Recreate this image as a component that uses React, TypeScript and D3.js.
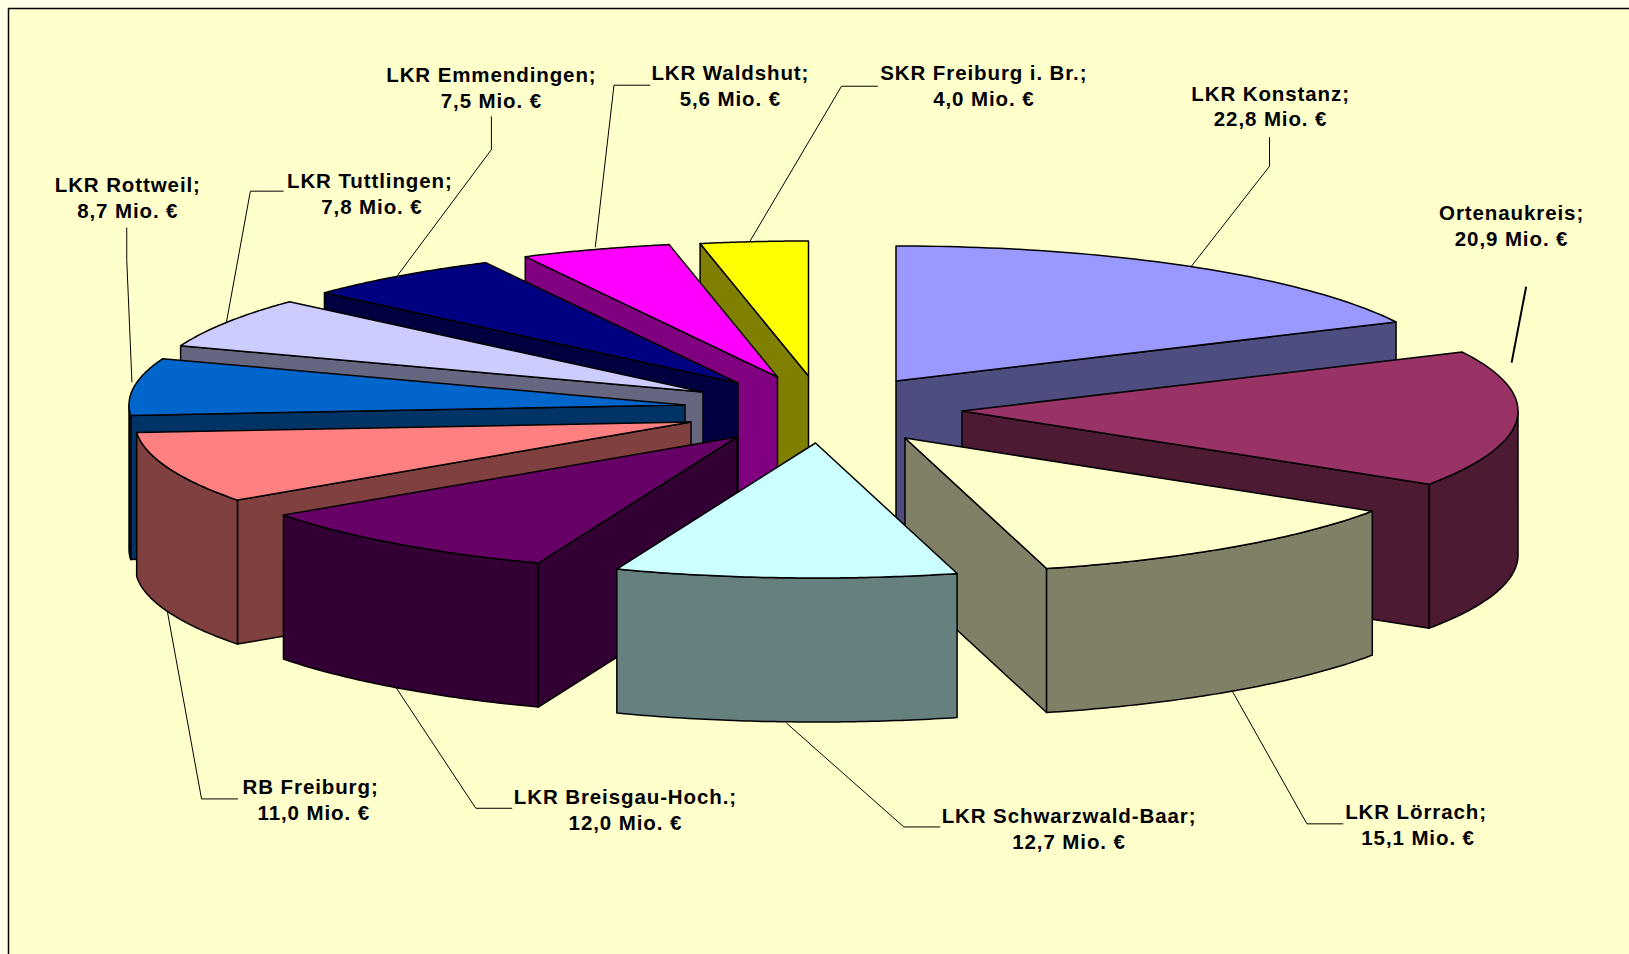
import React from "react";
import * as d3 from "d3";

const regions = ["LKR Konstanz", "Ortenaukreis", "LKR Lörrach", "LKR Schwarzwald-Baar", "LKR Breisgau-Hoch.", "RB Freiburg", "LKR Rottweil", "LKR Tuttlingen", "LKR Emmendingen", "LKR Waldshut", "SKR Freiburg i. Br."];
const amounts = [22.8, 20.9, 15.1, 12.7, 12.0, 11.0, 8.7, 7.8, 7.5, 5.6, 4.0];
const amountLabels = ["22,8", "20,9", "15,1", "12,7", "12,0", "11,0", "8,7", "7,8", "7,5", "5,6", "4,0"];
const topColors = ["#9999FF", "#993366", "#FFFFCC", "#CCFFFF", "#660066", "#FF8080", "#0066CC", "#CCCCFF", "#000080", "#FF00FF", "#FFFF00"];
const wallColors = ["#4D4D80", "#4D1A33", "#808066", "#668080", "#330033", "#804040", "#003366", "#666680", "#000040", "#800080", "#808000"];

// layout (px in the full-size picture)
const apexX = [896, 962, 905, 815.5, 737, 691, 685, 703, 738, 777.5, 808.5];
const apexY = [381, 411, 438, 443, 437, 422, 405, 392, 383, 377, 376];
const drawOrder = [10, 9, 8, 7, 6, 5, 4, 0, 1, 2, 3];
const RX = 556, RY = 135, DEPTH = 144;
const S = 1629 / 1568;
const labelX = [1223, 1455, 1363, 1029, 602, 299, 123, 356, 473, 703, 947];
const labelY = [90, 205, 782, 785, 767, 758, 178, 174, 72, 70, 70];
const value2Dx = [0, 0, 2, 0, 0, 3, 0, 2, 0, 0, 0];
const leaders: number[][][] = [
  [[1222, 132], [1222, 160], [1147, 256]],
  [[1469, 276], [1455, 349]],
  [[1186, 665], [1258, 793], [1293, 793]],
  [[757, 696], [870, 796], [905, 796]],
  [[380, 660], [458, 778], [493, 778]],
  [[161, 588], [194, 769], [229, 769]],
  [[122, 219], [122, 250], [127, 368]],
  [[273, 184], [241, 184], [218, 310]],
  [[473, 112], [473, 144], [382, 266]],
  [[626, 82], [591, 82], [573, 238]],
  [[845, 83], [810, 83], [722, 232]],
];

const arcs = d3.pie<number>().sort(null).startAngle(0).endAngle(2 * Math.PI)(amounts);
const line = d3.line<[number, number]>();

function arcPoints(i: number, a0: number, a1: number, dy = 0): [number, number][] {
  return d3.range(0, 61).map((k) => {
    const t = a0 + ((a1 - a0) * k) / 60;
    return [apexX[i] + RX * Math.sin(t), apexY[i] - RY * Math.cos(t) + dy] as [number, number];
  });
}

function Slice({ i }: { i: number }) {
  const { startAngle: a0, endAngle: a1 } = arcs[i];
  const ax = apexX[i], ay = apexY[i];
  const rim = (t: number): [number, number] => [ax + RX * Math.sin(t), ay - RY * Math.cos(t)];
  const wall = (t: number) => {
    const p = rim(t);
    return line([[ax, ay], p, [p[0], p[1] + DEPTH], [ax, ay + DEPTH]]) + "Z";
  };
  const f0 = Math.max(a0, Math.PI / 2), f1 = Math.min(a1, (3 * Math.PI) / 2);
  const outer = f1 > f0 ? line([...arcPoints(i, f0, f1), ...arcPoints(i, f0, f1, DEPTH).reverse()]) + "Z" : null;
  const top = line([[ax, ay], ...arcPoints(i, a0, a1)]) + "Z";
  const common = { stroke: "#000", strokeWidth: 1.5, strokeLinejoin: "round" as const };
  return (
    <g>
      {Math.sin(a0) < -1e-6 && <path d={wall(a0)} fill={wallColors[i]} {...common} />}
      {Math.sin(a1) > 1e-6 && <path d={wall(a1)} fill={wallColors[i]} {...common} />}
      {outer && <path d={outer} fill={wallColors[i]} {...common} />}
      <path d={top} fill={topColors[i]} {...common} />
    </g>
  );
}

export default function App() {
  return (
    <svg width={1629} height={954} style={{ position: "fixed", left: 0, top: 0 }} fontFamily="'Liberation Sans', Arial, sans-serif">
      <rect width={1629} height={954} fill="#FFFEE6" />
      <rect x={8.5} y={8.5} width={1700} height={1100} fill="#FFFFCC" stroke="#000" strokeWidth={1.5} />
      {leaders.map((pts, i) => (
        <path key={i} d={line(pts.map(([x, y]) => [x * S, y * S] as [number, number])) as string} fill="none" stroke="#000" strokeWidth={i === 1 ? 2 : 1} />
      ))}
      {drawOrder.map((i) => <Slice key={i} i={i} />)}
      {regions.map((r, i) => (
        <text key={r} fontSize={20.5} fontWeight="bold" fill="#000" textAnchor="middle" letterSpacing={0.9}>
          <tspan x={labelX[i] * S} y={labelY[i] * S + 7}>{r};</tspan>
          <tspan x={(labelX[i] + value2Dx[i]) * S} y={(labelY[i] + 25) * S + 7}>{amountLabels[i]} Mio. €</tspan>
        </text>
      ))}
    </svg>
  );
}
